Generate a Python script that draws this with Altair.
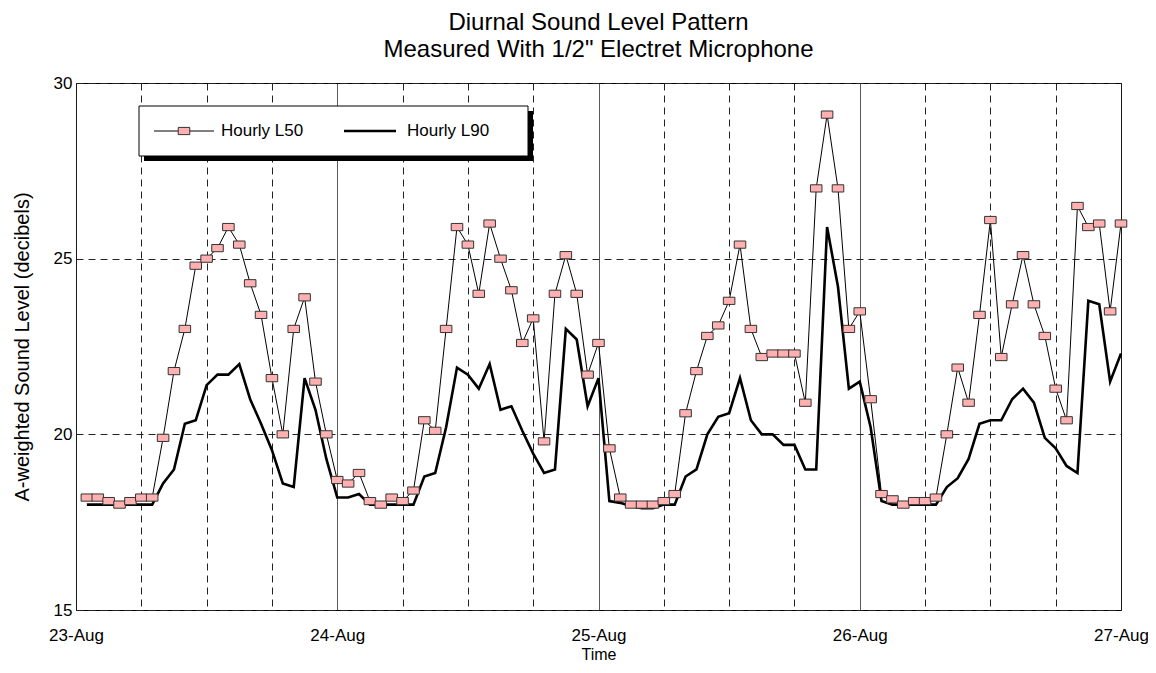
import json
import altair as alt
import pandas as pd

# Hour index (hours after 23-Aug 00:00) for each hourly reading
HOURS = list(range(1, 97))

# Hourly L50 (dB)
L50 = [
    18.2, 18.2, 18.1, 18.0, 18.1, 18.2, 18.2, 19.9, 21.8, 23.0, 24.8, 25.0,
    25.3, 25.9, 25.4, 24.3, 23.4, 21.6, 20.0, 23.0, 23.9, 21.5, 20.0, 18.7,
    18.6, 18.9, 18.1, 18.0, 18.2, 18.1, 18.4, 20.4, 20.1, 23.0, 25.9, 25.4,
    24.0, 26.0, 25.0, 24.1, 22.6, 23.3, 19.8, 24.0, 25.1, 24.0, 21.7, 22.6,
    19.6, 18.2, 18.0, 18.0, 18.0, 18.1, 18.3, 20.6, 21.8, 22.8, 23.1, 23.8,
    25.4, 23.0, 22.2, 22.3, 22.3, 22.3, 20.9, 27.0, 29.1, 27.0, 23.0, 23.5,
    21.0, 18.3, 18.15, 18.0, 18.1, 18.1, 18.2, 20.0, 21.9, 20.9, 23.4, 26.1,
    22.2, 23.7, 25.1, 23.7, 22.8, 21.3, 20.4, 26.5, 25.9, 26.0, 23.5, 26.0,
]

# Hourly L90 (dB)
L90 = [
    18.0, 18.0, 18.0, 18.0, 18.0, 18.0, 18.0, 18.6, 19.0, 20.3, 20.4, 21.4,
    21.7, 21.7, 22.0, 21.0, 20.3, 19.55, 18.6, 18.5, 21.6, 20.7, 19.3, 18.2,
    18.2, 18.3, 18.0, 18.0, 18.0, 18.0, 18.0, 18.8, 18.9, 20.2, 21.9, 21.7,
    21.3, 22.0, 20.7, 20.8, 20.1, 19.45, 18.9, 19.0, 23.0, 22.7, 20.8, 21.6,
    18.1, 18.05, 17.95, 17.9, 17.9, 18.0, 18.0, 18.8, 19.0, 20.0, 20.5, 20.6,
    21.6, 20.4, 20.0, 20.0, 19.7, 19.7, 19.0, 19.0, 25.9, 24.2, 21.3, 21.5,
    20.2, 18.1, 18.0, 18.0, 18.0, 18.0, 18.0, 18.5, 18.75, 19.3, 20.3, 20.4,
    20.4, 21.0, 21.3, 20.9, 19.9, 19.6, 19.1, 18.9, 23.8, 23.7, 21.5, 22.3,
]

DAY_LABELS = ["23-Aug", "24-Aug", "25-Aug", "26-Aug", "27-Aug"]
Y_TICKS = [15, 20, 25, 30]
TITLE = ["Diurnal Sound Level Pattern", 'Measured With 1/2" Electret Microphone']
Y_TITLE = "A-weighted Sound Level (decibels)"
X_TITLE = "Time"
LEGEND = ["Hourly L50", "Hourly L90"]

FONT = "Liberation Sans"
PINK = "#FFB0B0"

df = pd.DataFrame({"hour": HOURS, "L50": L50, "L90": L90})
one = pd.DataFrame({"k": [0]})

label_expr = (
    "datum.value % 24 === 0 ? " + json.dumps(DAY_LABELS) + "[datum.value / 24] : ''"
)

x_axis = alt.Axis(
    values=list(range(0, 97, 6)),
    labelExpr=label_expr,
    labelOverlap=False,
    labelFlush=False,
    grid=True,
    gridColor="#222",
    gridWidth=1,
    gridDash={"condition": {"test": "datum.value % 24 === 0", "value": [1, 0]}, "value": [7, 5]},
    ticks=False,
    domain=False,
    labelPadding=17,
    labelFontSize=17,
    labelFont=FONT,
    labelColor="black",
    title=X_TITLE,
    titleFont=FONT,
    titleFontSize=16,
    titleFontWeight="normal",
    titleColor="black",
    titlePadding=3,
)
y_axis = alt.Axis(
    values=Y_TICKS,
    grid=True,
    gridColor="#222",
    gridWidth=1,
    gridDash=[7, 5],
    ticks=False,
    domain=False,
    labelPadding=4,
    labelFontSize=17,
    labelFont=FONT,
    labelColor="black",
    title=Y_TITLE,
    titleFont=FONT,
    titleFontSize=20,
    titleFontWeight="normal",
    titleColor="black",
    titlePadding=21,
)

xs = alt.Scale(domain=[0, 96], nice=False, zero=False)
ys = alt.Scale(domain=[15, 30], nice=False, zero=False)

base = alt.Chart(df)

l90_line = base.mark_line(color="black", strokeWidth=2.6).encode(
    x=alt.X("hour:Q", scale=xs, axis=x_axis),
    y=alt.Y("L90:Q", scale=ys, axis=y_axis),
)
l50_line = base.mark_line(color="black", strokeWidth=1).encode(
    x=alt.X("hour:Q", scale=xs, axis=x_axis),
    y=alt.Y("L50:Q", scale=ys, axis=y_axis),
)
RECT = "M-1.6,-1L1.6,-1L1.6,1L-1.6,1Z"
l50_pts = base.mark_point(
    shape=RECT, size=52, filled=True, fill=PINK, stroke="#333", strokeWidth=1, opacity=1
).encode(
    x=alt.X("hour:Q", scale=xs, axis=x_axis),
    y=alt.Y("L50:Q", scale=ys, axis=y_axis),
)

# Legend (drawn manually, in pixel space)
leg = alt.Chart(one)
shadow = leg.mark_rect(color="black").encode(
    x=alt.value(68), x2=alt.value(457), y=alt.value(28), y2=alt.value(78)
)
box = leg.mark_rect(fill="white", stroke="black", strokeWidth=1).encode(
    x=alt.value(63), x2=alt.value(452), y=alt.value(23), y2=alt.value(73)
)
leg_l50 = leg.mark_rule(color="black", strokeWidth=1).encode(
    x=alt.value(78), x2=alt.value(138), y=alt.value(48)
)
leg_pt = leg.mark_point(
    shape=RECT, size=52, filled=True, fill=PINK, stroke="#333", strokeWidth=1, opacity=1
).encode(x=alt.value(108), y=alt.value(48))
leg_l90 = leg.mark_rule(color="black", strokeWidth=2.6).encode(
    x=alt.value(268), x2=alt.value(320), y=alt.value(48)
)
leg_t1 = leg.mark_text(align="left", baseline="middle", font=FONT, fontSize=17, color="black").encode(
    x=alt.value(145), y=alt.value(48), text=alt.value(LEGEND[0])
)
leg_t2 = leg.mark_text(align="left", baseline="middle", font=FONT, fontSize=17, color="black").encode(
    x=alt.value(331), y=alt.value(48), text=alt.value(LEGEND[1])
)

chart = (
    alt.layer(l90_line, l50_line, l50_pts, shadow, box, leg_l50, leg_pt, leg_l90, leg_t1, leg_t2)
    .properties(
        width=1045,
        height=527,
        autosize=alt.AutoSizeParams(type="none"),
        padding={"left": 68, "top": 75, "right": 27, "bottom": 54},
        title=alt.TitleParams(
            text=TITLE,
            font=FONT,
            fontSize=24,
            fontWeight="normal",
            color="black",
            anchor="middle",
            lineHeight=27,
            offset=12,
        ),
        background="white",
    )
    .configure_view(stroke="black", strokeWidth=1)
)

chart.save("out.html", embed_options={"renderer": "svg", "actions": False})
